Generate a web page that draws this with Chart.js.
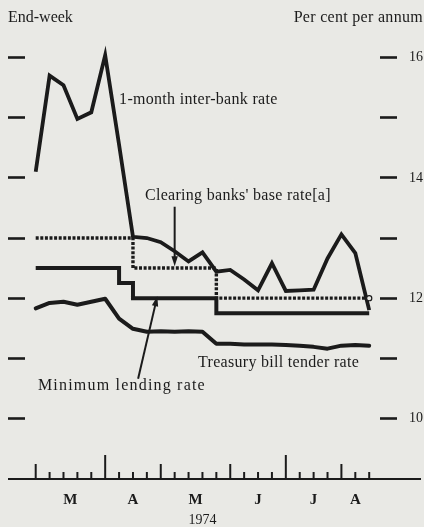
<!DOCTYPE html>
<html>
<head>
<meta charset="utf-8">
<script src="https://cdn.jsdelivr.net/npm/chart.js@4/dist/chart.umd.min.js"></script>
<style>
html,body{margin:0;padding:0;background:#e9e9e5;}
canvas{display:block;}
</style>
</head>
<body>
<canvas id="c" width="424" height="527"></canvas>
<script>
// ---- data (end-week, 1974) ----
const weekEnding = ['1974-02-22','1974-03-01','1974-03-08','1974-03-15','1974-03-22','1974-03-29',
  '1974-04-05','1974-04-12','1974-04-19','1974-04-26','1974-05-03','1974-05-10','1974-05-17',
  '1974-05-24','1974-05-31','1974-06-07','1974-06-14','1974-06-21','1974-06-28','1974-07-05',
  '1974-07-12','1974-07-19','1974-07-26','1974-08-02','1974-08-09'];
const monthLabels = ['M','A','M','J','J','A'];
const yearLabel = '1974';

const interBank = [14.10,15.70,15.54,14.98,15.09,16.04,14.55,13.02,13.00,12.93,12.78,12.61,12.76,
  12.44,12.47,12.31,12.13,12.58,12.12,12.13,12.14,12.66,13.06,12.75,11.80];
const baseRate = [13,13,13,13,13,13,13,12.5,12.5,12.5,12.5,12.5,12.5,
  12,12,12,12,12,12,12,12,12,12,12,12];
const minLending = [12.5,12.5,12.5,12.5,12.5,12.5,12.25,12,12,12,12,12,12,
  11.75,11.75,11.75,11.75,11.75,11.75,11.75,11.75,11.75,11.75,11.75,11.75];
const treasuryBill = [11.83,11.92,11.94,11.89,11.94,11.99,11.66,11.49,11.44,11.45,11.44,11.45,11.44,
  11.24,11.24,11.23,11.23,11.23,11.22,11.21,11.19,11.16,11.21,11.22,11.21];

const yTickValues = [10,11,12,13,14,15,16];
const yTickLabels = [10,12,14,16];

// ---- derived helpers ----
const months = weekEnding.map(d => +d.slice(5,7));
const monthEnds = [];
months.forEach((m,i) => { if (i < months.length-1 && months[i+1] !== m) monthEnds.push(i); });
const bounds = monthEnds.concat([months.length-1]);
const monthCentres = bounds.slice(0,-1).map((b,k) => (b + bounds[k+1]) / 2);
const pts = arr => arr.map((v,i) => ({x:i, y:v}));

const ink = '#1b1b1b';
const bg = '#e9e9e5';
const serif = "'Liberation Serif','DejaVu Serif',serif";

const notes = [
  {text:'1-month inter-bank rate', x:6.0, y:15.29, spacing:0.3},
  {text:"Clearing banks' base rate[a]", x:7.86, y:13.71, spacing:0.3},
  {text:'Treasury bill tender rate', x:11.68, y:10.92, spacing:0.3},
  {text:'Minimum lending rate', x:0.16, y:10.55, spacing:1.2}
];
const arrows = [
  {from:[10.0, 13.52], to:[10.0, 12.53]},
  {from:[7.37, 10.66], to:[8.75, 12.03]}
];

const decor = {
  id:'decor',
  beforeDraw(chart){
    const c = chart.ctx;
    c.save(); c.fillStyle = bg; c.fillRect(0,0,chart.width,chart.height); c.restore();
  },
  afterDraw(chart){
    const c = chart.ctx, xs = chart.scales.x, ys = chart.scales.y, a = chart.chartArea;
    c.save();
    c.fillStyle = ink; c.strokeStyle = ink;
    // headers
    c.font = '16px ' + serif; c.textBaseline = 'middle';
    c.textAlign = 'left'; c.fillText('End-week', 8, 18);
    c.letterSpacing = '0.3px';
    c.textAlign = 'right'; c.fillText('Per cent per annum', chart.width - 1, 18);
    c.letterSpacing = '0px';
    // baseline
    c.lineWidth = 1.8; c.beginPath();
    c.moveTo(a.left - 17, a.bottom); c.lineTo(chart.width - 3, a.bottom); c.stroke();
    // weekly ticks pointing up
    c.lineWidth = 2;
    weekEnding.forEach((d,i) => {
      const isEnd = monthEnds.includes(i);
      const len = isEnd ? (months[i] % 3 === 0 ? 24 : 15) : 7;
      const px = xs.getPixelForValue(i);
      c.beginPath(); c.moveTo(px, a.bottom); c.lineTo(px, a.bottom - len); c.stroke();
    });
    // notes
    c.font = '16px ' + serif; c.textAlign = 'left'; c.textBaseline = 'middle';
    notes.forEach(n => {
      c.letterSpacing = n.spacing + 'px';
      c.fillText(n.text, xs.getPixelForValue(n.x), ys.getPixelForValue(n.y));
    });
    c.letterSpacing = '0px';
    // arrows
    arrows.forEach(ar => {
      const x1 = xs.getPixelForValue(ar.from[0]), y1 = ys.getPixelForValue(ar.from[1]);
      const x2 = xs.getPixelForValue(ar.to[0]), y2 = ys.getPixelForValue(ar.to[1]);
      const ang = Math.atan2(y2-y1, x2-x1), hl = 10, hw = 3.2;
      c.lineWidth = 2;
      c.beginPath(); c.moveTo(x1,y1);
      c.lineTo(x2 - Math.cos(ang)*hl*0.8, y2 - Math.sin(ang)*hl*0.8); c.stroke();
      c.beginPath(); c.moveTo(x2,y2);
      c.lineTo(x2 - Math.cos(ang)*hl - Math.sin(ang)*hw, y2 - Math.sin(ang)*hl + Math.cos(ang)*hw);
      c.lineTo(x2 - Math.cos(ang)*hl + Math.sin(ang)*hw, y2 - Math.sin(ang)*hl - Math.cos(ang)*hw);
      c.closePath(); c.fill();
    });
    c.restore();
  }
};

const yCommon = {
  type:'linear', min:8.993, max:16.618,
  afterBuildTicks: s => { s.ticks = yTickValues.map(v => ({value:v})); },
  border:{display:false},
  grid:{drawOnChartArea:false, drawTicks:true, tickLength:17, tickWidth:2.6, tickColor:ink}
};

new Chart(document.getElementById('c'), {
  type:'line',
  data:{
    labels: weekEnding,
    datasets:[
      {label:"Clearing banks' base rate", data:pts(baseRate), stepped:'before', borderColor:ink,
       borderWidth:3.4, borderDash:[3,1.6], borderCapStyle:'butt',
       pointRadius: ctx => ctx.dataIndex === baseRate.length-1 ? 2.6 : 0,
       pointBackgroundColor:bg, pointBorderColor:ink, pointBorderWidth:1.2, yAxisID:'y'},
      {label:'Minimum lending rate', data:pts(minLending), stepped:'before', borderColor:ink,
       borderWidth:4, pointRadius:0, borderJoinStyle:'miter', yAxisID:'y'},
      {label:'Treasury bill tender rate', data:pts(treasuryBill), borderColor:ink,
       borderWidth:4, pointRadius:0, borderJoinStyle:'round', borderCapStyle:'round', yAxisID:'y'},
      {label:'1-month inter-bank rate', data:pts(interBank), borderColor:ink,
       borderWidth:3.8, pointRadius:0, borderJoinStyle:'miter', yAxisID:'y'}
    ]
  },
  options:{
    responsive:false, animation:false, devicePixelRatio:1,
    layout:{padding:{top:20, left:0, right:0, bottom:0}},
    plugins:{legend:{display:false}, tooltip:{enabled:false}},
    scales:{
      x:{
        type:'linear', position:'bottom', min:-0.77, max:24.777,
        afterFit: s => { s.height = 48; },
        afterBuildTicks: s => { s.ticks = monthCentres.map(v => ({value:v})); },
        grid:{display:false}, border:{display:false},
        ticks:{autoSkip:false, maxRotation:0, padding:4, color:ink,
               font:{family:serif, size:15, weight:'bold'},
               callback:(v,i) => monthLabels[i]},
        title:{display:true, text:yearLabel, color:ink, font:{family:serif, size:14}, padding:{top:0,bottom:-2}}
      },
      yL: Object.assign({}, yCommon, {position:'left', afterFit: s => { s.width = 25; }, ticks:{display:false}}),
      y: Object.assign({}, yCommon, {position:'right', afterFit: s => { s.width = 44; },
        ticks:{padding:12, color:ink, font:{family:serif, size:14},
               callback: v => yTickLabels.includes(v) ? String(v) : ''}})
    }
  },
  plugins:[decor]
});
</script>
</body>
</html>
